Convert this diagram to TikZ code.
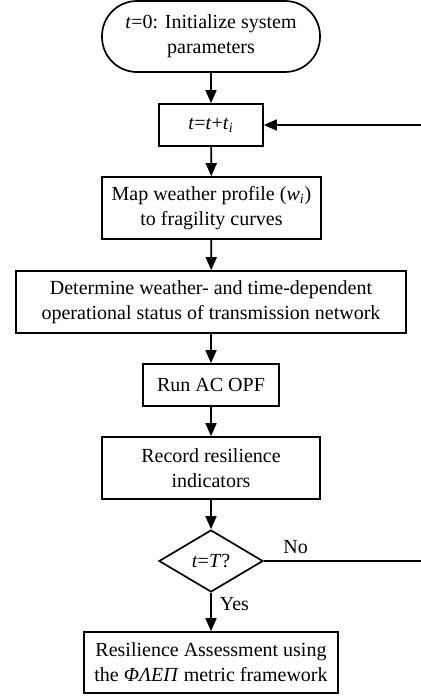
\documentclass[tikz,border=0pt]{standalone}
\usepackage{fontspec}
\setmainfont{Liberation Serif}
\usetikzlibrary{arrows.meta,shapes.geometric}
\begin{document}
\begin{tikzpicture}[x=0.5pt,y=-0.5pt,
  every node/.style={font=\fontsize{10}{12.5}\selectfont, align=center, inner sep=0pt},
  box/.style={draw, line width=0.85pt, rectangle},
  conn/.style={line width=0.85pt, -{Triangle[length=6.5pt,width=5.5pt]}},
  plain/.style={line width=0.85pt},
  lbl/.style={font=\fontsize{10}{12}\selectfont}]
\useasboundingbox (0,0) rectangle (420,696);
\node[box, rounded corners=17.5pt, minimum width=109pt, minimum height=35.5pt] (start) at (211,36.5)
  {\textit{t}=0: Initialize system\\parameters};
\node[box, minimum width=52pt, minimum height=21pt] (upd) at (211,125)
  {\textit{t}=\textit{t}+\textit{t}\textsubscript{\textit{i}}};
\node[box, minimum width=109.5pt, minimum height=31pt] (map) at (211.5,208)
  {Map weather profile (\textit{w}\textsubscript{\textit{i}})\\to fragility curves};
\node[box, minimum width=195pt, minimum height=31pt] (det) at (211,302)
  {Determine weather- and time-dependent\\operational status of transmission network};
\node[box, minimum width=68pt, minimum height=21pt] (opf) at (211,385)
  {Run AC OPF};
\node[box, minimum width=109pt, minimum height=31pt] (rec) at (211,468)
  {Record resilience\\indicators};
\node[draw, line width=0.85pt, diamond, aspect=1.68, minimum width=52pt, minimum height=31pt] (dec) at (211,561)
  {\textit{t}=\textit{T}?};
\node[box, minimum width=127pt, minimum height=30.5pt] (res) at (211,662.5)
  {Resilience Assessment using\\the \textit{ΦΛΕΠ} metric framework};
\coordinate (c1) at (423,561);
\coordinate (c2) at (423,125);
\draw[conn] (start) -- (upd);
\draw[conn] (upd) -- (map);
\draw[conn] (map) -- (det);
\draw[conn] (det) -- (opf);
\draw[conn] (opf) -- (rec);
\draw[conn] (rec) -- (dec);
\draw[conn] (dec) -- node[lbl, right=4pt, pos=0.3] (yes) {Yes} (res);
\draw[plain] (dec.east) -- node[lbl, above=3pt, pos=0.2] (no) {No} (c1) -- (c2);
\draw[conn] (c2) -- (upd.east);
\end{tikzpicture}
\end{document}
